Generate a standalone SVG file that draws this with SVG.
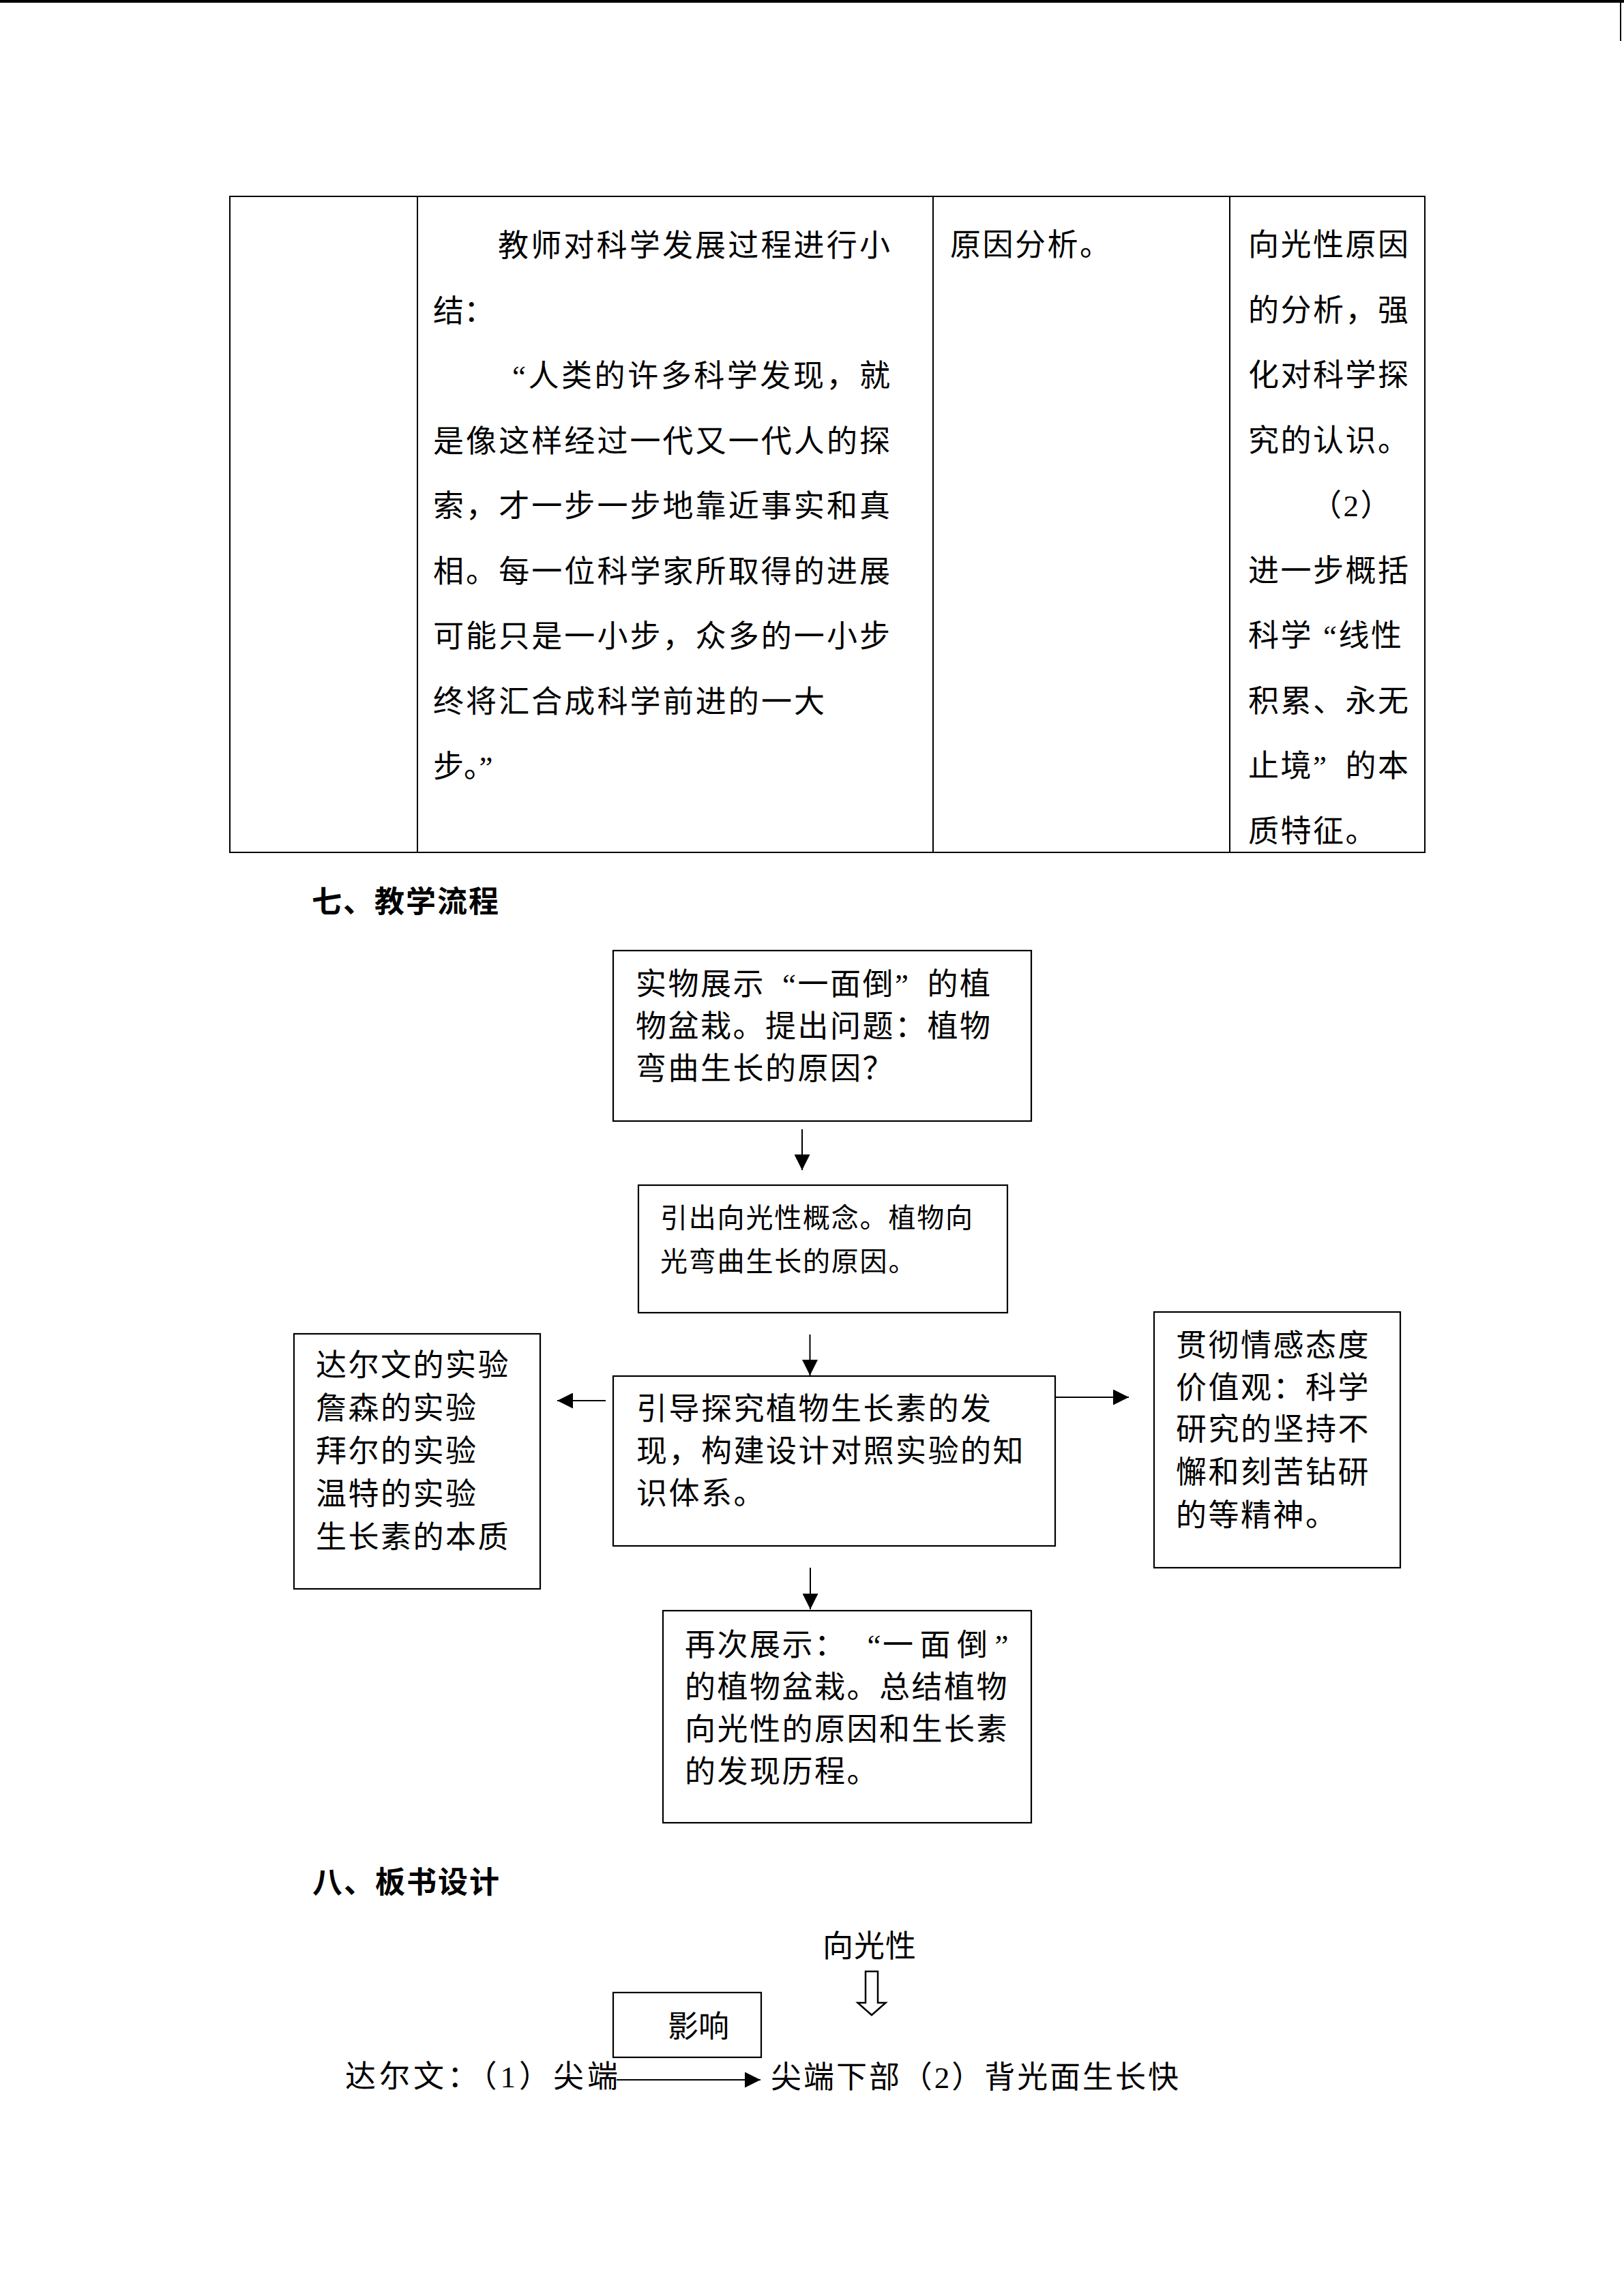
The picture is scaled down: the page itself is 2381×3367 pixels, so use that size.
<svg xmlns="http://www.w3.org/2000/svg" width="2381" height="3367" viewBox="0 0 2381 3367">
<style>
.t{font-family:"Liberation Serif","Noto Sans CJK SC",serif;font-size:45px;fill:#000}
.ls{letter-spacing:2.5px}
.s40{font-size:40px;letter-spacing:1.8px}
.h{font-family:"Noto Sans CJK SC",sans-serif;font-weight:700;font-size:44px;fill:#000;letter-spacing:2px}
.box{fill:#fff;stroke:#000;stroke-width:2.2}
.tb{fill:none;stroke:#000;stroke-width:2}
.ln{stroke:#000;stroke-width:2;fill:none}
</style>
<defs>
<marker id="ah" markerUnits="userSpaceOnUse" markerWidth="23" markerHeight="23" viewBox="0 0 23 23" refX="23" refY="11.5" orient="auto">
<path d="M0,0 L23,11.5 L0,23 Z" fill="#000"/>
</marker>
</defs>
<rect x="0" y="0" width="2381" height="4" fill="#000"/>
<rect x="2375" y="0" width="2" height="60" fill="#000"/>

<g id="table">
<rect class="tb" x="337" y="288" width="1752" height="962"/>
<line class="tb" x1="612" y1="288" x2="612" y2="1250"/>
<line class="tb" x1="1368" y1="288" x2="1368" y2="1250"/>
<line class="tb" x1="1803" y1="288" x2="1803" y2="1250"/>
<g class="t">
<text x="730" y="376" textLength="575" lengthAdjust="spacing">教师对科学发展过程进行小</text>
<text x="635" y="471.5">结：</text>
<text x="751" y="567" textLength="554" lengthAdjust="spacing">“人类的许多科学发现，就</text>
<text x="635" y="662.5" textLength="670" lengthAdjust="spacing">是像这样经过一代又一代人的探</text>
<text x="635" y="758" textLength="670" lengthAdjust="spacing">索，才一步一步地靠近事实和真</text>
<text x="635" y="853.5" textLength="670" lengthAdjust="spacing">相。每一位科学家所取得的进展</text>
<text x="635" y="949" textLength="670" lengthAdjust="spacing">可能只是一小步，众多的一小步</text>
<text x="635" y="1044.5" textLength="574" lengthAdjust="spacing">终将汇合成科学前进的一大</text>
<text x="635" y="1140">步。”</text>
<text x="1393" y="375" class="ls">原因分析。</text>
</g>
<g class="t ls">
<text x="1830" y="375">向光性原因</text>
<text x="1830" y="470.5">的分析，强</text>
<text x="1830" y="566">化对科学探</text>
<text x="1830" y="661.5">究的认识。</text>
<text x="1922" y="757">（2）</text>
<text x="1830" y="852.5">进一步概括</text>
<text x="1830" y="948">科学<tspan dx="15">“</tspan>线性</text>
<text x="1830" y="1043.5">积累、永无</text>
<text x="1830" y="1139">止境”<tspan dx="25">的</tspan>本</text>
<text x="1830" y="1234.5">质特征。</text>
</g>
</g>

<text id="heading7" class="h" x="457" y="1338">七、教学流程</text>

<g id="connectors">
<line class="ln" x1="1176" y1="1656" x2="1176" y2="1716" marker-end="url(#ah)"/>
<line class="ln" x1="1187.5" y1="1957" x2="1187.5" y2="2017" marker-end="url(#ah)"/>
<line class="ln" x1="1188" y1="2299" x2="1188" y2="2360" marker-end="url(#ah)"/>
<line class="ln" x1="888" y1="2054" x2="817" y2="2054" marker-end="url(#ah)"/>
<line class="ln" x1="1547" y1="2049" x2="1655" y2="2049" marker-end="url(#ah)"/>
<line class="ln" x1="904" y1="3050" x2="1115" y2="3050" stroke-width="2.7" marker-end="url(#ah)"/>
</g>

<g id="nodeA">
<rect class="box" x="899" y="1394" width="613" height="250"/>
<g class="t ls">
<text x="932" y="1459">实物展示<tspan dx="25">“</tspan>一面倒”<tspan dx="25">的</tspan>植</text>
<text x="932" y="1521">物盆栽。提出问题：植物</text>
<text x="932" y="1583">弯曲生长的原因？</text>
</g>
</g>

<g id="nodeB">
<rect class="box" x="936" y="1738" width="541" height="187"/>
<g class="t s40">
<text x="968" y="1800">引出向光性概念。植物向</text>
<text x="968" y="1864">光弯曲生长的原因。</text>
</g>
</g>

<g id="nodeC">
<rect class="box" x="899" y="2018" width="648" height="249"/>
<g class="t ls">
<text x="933" y="2082">引导探究植物生长素的发</text>
<text x="933" y="2144">现，构建设计对照实验的知</text>
<text x="933" y="2206">识体系。</text>
</g>
</g>

<g id="nodeLeft">
<rect class="box" x="431" y="1956" width="361" height="374"/>
<g class="t ls">
<text x="463" y="2018">达尔文的实验</text>
<text x="463" y="2081">詹森的实验</text>
<text x="463" y="2144">拜尔的实验</text>
<text x="463" y="2207">温特的实验</text>
<text x="463" y="2270">生长素的本质</text>
</g>
</g>

<g id="nodeRight">
<rect class="box" x="1692" y="1924" width="361" height="375"/>
<g class="t ls">
<text x="1724" y="1989">贯彻情感态度</text>
<text x="1724" y="2051">价值观：科学</text>
<text x="1724" y="2112">研究的坚持不</text>
<text x="1724" y="2175">懈和刻苦钻研</text>
<text x="1724" y="2238">的等精神。</text>
</g>
</g>

<g id="nodeD">
<rect class="box" x="972" y="2362" width="540" height="311"/>
<g class="t ls">
<text x="1004" y="2428">再次展示：<tspan dx="30">“</tspan>一<tspan dx="7">面</tspan><tspan dx="7">倒</tspan><tspan dx="8">”</tspan></text>
<text x="1004" y="2490">的植物盆栽。总结植物</text>
<text x="1004" y="2552">向光性的原因和生长素</text>
<text x="1004" y="2614">的发现历程。</text>
</g>
</g>

<text id="heading8" class="h" x="458" y="2776">八、板书设计</text>

<g id="board">
<text class="t" x="1206" y="2870" style="letter-spacing:1px">向光性</text>
<polygon points="1269,2891 1287,2891 1287,2937 1298.5,2937 1278,2955 1257.5,2937 1269,2937" fill="#fff" stroke="#000" stroke-width="2.5"/>
<g id="nodeInfluence">
<rect class="box" x="899" y="2922" width="217" height="95" stroke-width="2.6"/>
<text class="t" x="979" y="2988">影响</text>
</g>
<text class="t" x="506" y="3061" textLength="400" lengthAdjust="spacing">达尔文：（1）尖端</text>
<text class="t" x="1130" y="3062" textLength="598" lengthAdjust="spacing">尖端下部（2）背光面生长快</text>
</g>
</svg>
